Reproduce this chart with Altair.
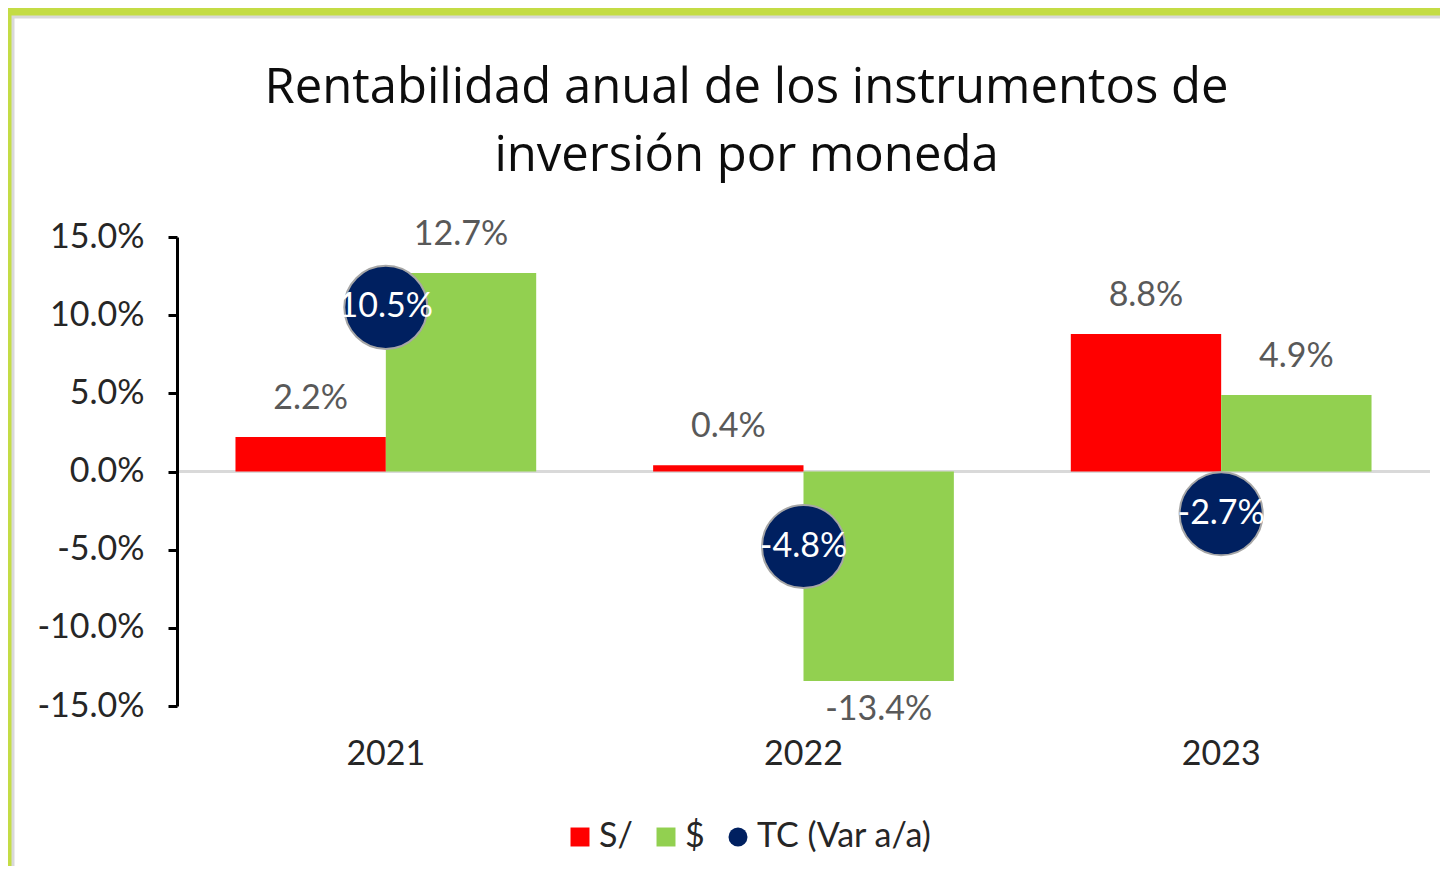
import altair as alt
import pandas as pd

years = ["2021", "2022", "2023"]
sol = [0.022, 0.004, 0.088]
usd = [0.127, -0.134, 0.049]
tc = [0.105, -0.048, -0.027]
series_names = ["S/", "$", "TC (Var a/a)"]
series_colors = ["#ff0000", "#92d050", "#002060"]
series_shapes = ["square", "square", "circle"]
y_ticks = [-0.15, -0.10, -0.05, 0.0, 0.05, 0.10, 0.15]

bars_df = pd.DataFrame(
    [{"year": y, "series": "S/", "value": v} for y, v in zip(years, sol)]
    + [{"year": y, "series": "$", "value": v} for y, v in zip(years, usd)]
)
tc_df = pd.DataFrame([{"year": y, "series": "TC (Var a/a)", "value": v} for y, v in zip(years, tc)])

LABEL_FONT = "Lato"
FS = 34
LABEL_EXPR = "replace(format(datum.value, '.1%'), '\u2212', '-')"

x_enc = alt.X(
    "year:N",
    sort=years,
    title=None,
    scale=alt.Scale(paddingInner=0.28, paddingOuter=0.14),
    axis=alt.Axis(domain=False, ticks=False, labelPadding=31, labelFontSize=FS,
                  labelFont=LABEL_FONT, labelColor="#262626", labelAngle=0, zindex=2),
)
y_enc = alt.Y(
    "value:Q",
    title=None,
    scale=alt.Scale(domain=[-0.15, 0.15], nice=False, zero=False),
    axis=alt.Axis(values=y_ticks, format=".1%", grid=False, domainColor="#000000",
                  domainWidth=3, tickColor="#000000", tickWidth=3, tickSize=9,
                  labelPadding=24, labelFontSize=FS, labelFont=LABEL_FONT,
                  labelColor="#262626", zindex=2,
                  labelExpr="replace(datum.label, '\u2212', '-')"),
)
color_scale = alt.Scale(domain=series_names, range=series_colors)
shape_scale = alt.Scale(domain=series_names, range=series_shapes)
xoff = alt.XOffset("series:N", sort=["S/", "$"])

legend_opts = dict(
    title=None, orient="none", legendX=386, legendY=583,
    direction="horizontal", symbolSize=360,
    labelFontSize=FS, labelFont=LABEL_FONT, labelLimit=400,
    labelColor="#262626", columnPadding=16,
    labelOffset=2, zindex=2, symbolStrokeWidth=0,
)

panel = alt.Chart(alt.Data(values=[{}])).mark_rect(
    fill="#ffffff", stroke="#d9d9d9", strokeWidth=3
).encode(
    x=alt.value(-164), x2=alt.value(1266), y=alt.value(-220), y2=alt.value(640)
)

zero_rule = alt.Chart(alt.Data(values=[{}])).mark_rule(color="#d9d9d9", strokeWidth=3).encode(
    y=alt.datum(0, scale=alt.Scale(domain=[-0.15, 0.15], nice=False, zero=False))
)

bars = alt.Chart(bars_df).mark_bar().encode(
    x=x_enc, xOffset=xoff, y=y_enc,
    color=alt.Color("series:N", scale=color_scale, legend=alt.Legend(**legend_opts)),
)

pos_labels = alt.Chart(bars_df).transform_filter("datum.value >= 0").transform_calculate(
    label=LABEL_EXPR
).mark_text(
    font=LABEL_FONT, fontSize=FS, color="#595959", baseline="middle", dy=-38
).encode(x=x_enc, xOffset=xoff, y=y_enc, text="label:N")

neg_labels = alt.Chart(bars_df).transform_filter("datum.value < 0").transform_calculate(
    label=LABEL_EXPR
).mark_text(
    font=LABEL_FONT, fontSize=FS, color="#595959", baseline="middle", dy=29
).encode(x=x_enc, xOffset=xoff, y=y_enc, text="label:N")

points = alt.Chart(tc_df).mark_point(
    filled=True, size=6900, opacity=1, stroke="#a6a6a6", strokeWidth=2
).encode(
    x=x_enc, y=y_enc,
    color=alt.Color("series:N", scale=color_scale, legend=alt.Legend(**legend_opts)),
    shape=alt.Shape("series:N", scale=shape_scale, legend=alt.Legend(**legend_opts)),
)

point_labels = alt.Chart(tc_df).transform_calculate(label=LABEL_EXPR).mark_text(
    font=LABEL_FONT, fontSize=FS, color="#ffffff", baseline="middle"
).encode(x=x_enc, y=y_enc, text="label:N")

chart = alt.layer(panel, zero_rule, bars, pos_labels, neg_labels, points, point_labels).properties(
    width=1253,
    height=469,
    autosize=alt.AutoSizeParams(type="none"),
    padding={"left": 169, "top": 229, "right": 10, "bottom": 160},
    background="#c4dc45",
    title=alt.TitleParams(
        ["Rentabilidad anual de los instrumentos de", "inversión por moneda"],
        font="Open Sans", fontSize=49, fontWeight="normal", color="#0d0d0d",
        anchor="middle", frame="group", lineHeight=68, offset=0, dx=-57, dy=165,
    ),
).configure_view(stroke=None)

chart.save("out.html", embed_options={"renderer": "svg", "actions": False})
